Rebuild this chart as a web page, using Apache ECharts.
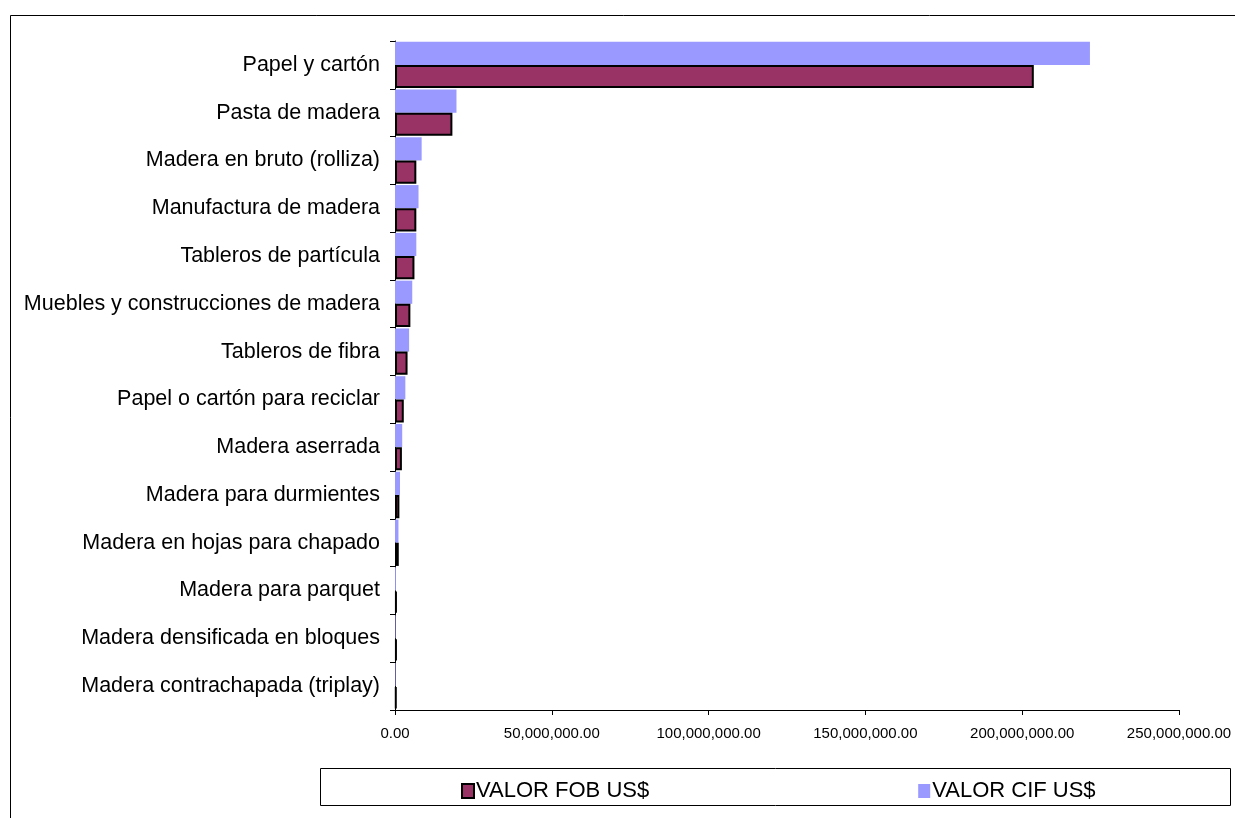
<!DOCTYPE html>
<html>
<head>
<meta charset="utf-8">
<script src="https://cdn.jsdelivr.net/npm/echarts@6/dist/echarts.min.js"></script>
<style>html,body{margin:0;padding:0;background:#fff}#c{width:1235px;height:818px}</style>
</head>
<body>
<div id="c"></div>
<script>
// Categories listed top to bottom as in the picture
const categories = [
  'Papel y cartón',
  'Pasta de madera',
  'Madera en bruto (rolliza)',
  'Manufactura de madera',
  'Tableros de partícula',
  'Muebles y construcciones de madera',
  'Tableros de fibra',
  'Papel o cartón para reciclar',
  'Madera aserrada',
  'Madera para durmientes',
  'Madera en hojas para chapado',
  'Madera para parquet',
  'Madera densificada en bloques',
  'Madera contrachapada (triplay)'
];
const fobValues = [203700000, 18300000, 6800000, 6800000, 6200000, 4900000, 4000000, 2800000, 2200000, 1400000, 1200000, 600000, 600000, 500000];
const cifValues = [221600000, 19600000, 8500000, 7500000, 6800000, 5500000, 4500000, 3300000, 2300000, 1600000, 1100000, 300000, 200000, 200000];
const seriesNames = ['VALOR FOB US$', 'VALOR CIF US$'];
const xTicks = { min: 0, max: 250000000, interval: 50000000 };

const FONT = 'Liberation Sans';
function fmt(v) {
  return Number(v).toLocaleString('en-US', { minimumFractionDigits: 2, maximumFractionDigits: 2 });
}

const chart = echarts.init(document.getElementById('c'), null, { renderer: 'canvas' });
chart.setOption({
  animation: false,
  backgroundColor: '#ffffff',
  textStyle: { fontFamily: FONT },
  grid: { left: 395, right: 56, top: 41, bottom: 108, containLabel: false },
  xAxis: {
    type: 'value',
    min: xTicks.min, max: xTicks.max, interval: xTicks.interval,
    splitLine: { show: false },
    axisLine: { show: true, lineStyle: { color: '#000', width: 1 } },
    axisTick: { show: true, length: 5, lineStyle: { color: '#000' } },
    axisLabel: { color: '#000', fontSize: 15, fontFamily: FONT, margin: 16, formatter: fmt }
  },
  yAxis: {
    type: 'category',
    data: categories.slice().reverse(),
    axisLine: { show: true, lineStyle: { color: '#000', width: 1 } },
    axisTick: { show: true, length: 5, lineStyle: { color: '#000' } },
    axisLabel: { color: '#000', fontSize: 21.5, fontFamily: FONT, margin: 15 }
  },
  legend: {
    data: seriesNames,
    left: 456, top: 775,
    itemWidth: 12, itemHeight: 14, itemGap: 269,
    icon: 'rect',
    textStyle: { color: '#000', fontSize: 22, fontFamily: FONT, padding: [0, 0, 0, -3] }
  },
  graphic: [
    { type: 'rect', shape: { x: 10.5, y: 15.5, width: 1400, height: 1000 }, style: { fill: 'none', stroke: '#000', lineWidth: 1 }, silent: true },
    { type: 'rect', shape: { x: 320.5, y: 768.5, width: 910, height: 37 }, style: { fill: 'none', stroke: '#000', lineWidth: 1 }, silent: true }
  ],
  series: [
    {
      name: seriesNames[1], type: 'bar',
      data: cifValues.slice().reverse(),
      barGap: '0%', barCategoryGap: '3%',
      itemStyle: { color: '#9999FF' }
    },
    {
      name: seriesNames[0], type: 'bar',
      data: fobValues.slice().reverse(),
      barGap: '0%', barCategoryGap: '3%',
      itemStyle: { color: '#993366', borderColor: '#000', borderWidth: 2 }
    }
  ]
});
</script>
</body>
</html>
